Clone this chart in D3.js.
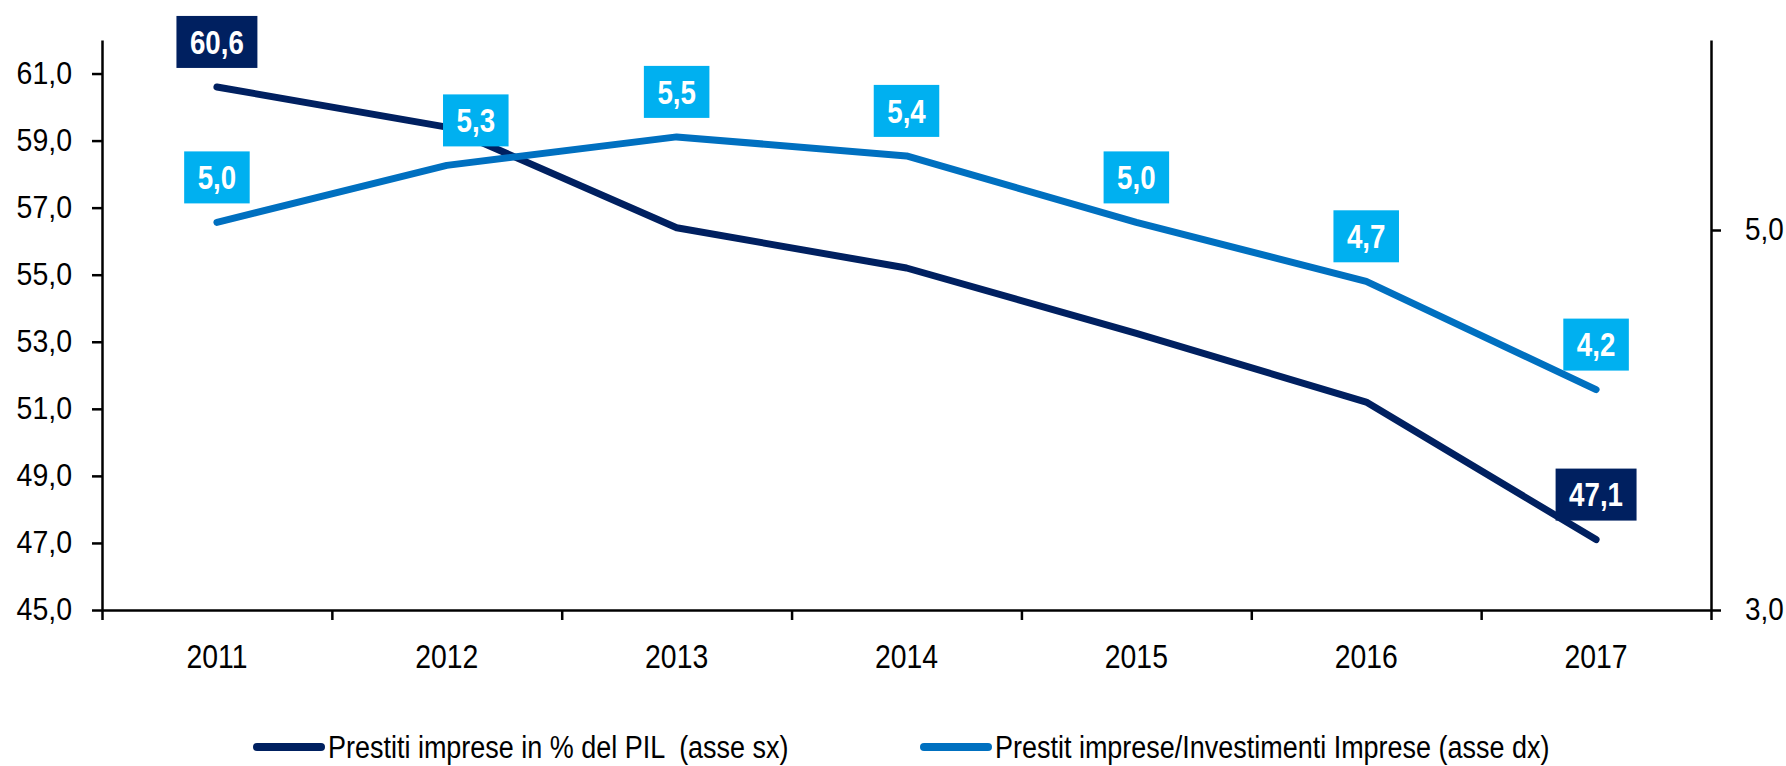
<!DOCTYPE html>
<html>
<head>
<meta charset="utf-8">
<script src="https://cdn.jsdelivr.net/npm/d3@7"></script>
<style>
  body { margin: 0; background: #fff; }
  svg text { font-family: 'Liberation Sans Narrow', 'Arial Narrow', 'Liberation Sans', Arial, sans-serif; }
</style>
</head>
<body>
<div id="chart"></div>
<script>
// dati
var years = ["2011", "2012", "2013", "2014", "2015", "2016", "2017"];
var prestitiPil = [60.6, 59.4, 56.4, 55.2, 53.25, 51.2, 47.1];      // asse sx
var prestitiInv = [5.04, 5.34, 5.49, 5.39, 5.04, 4.73, 4.16];       // asse dx
var pilLabelYears = ["2011", "2017"];
var leftTicks = [45, 47, 49, 51, 53, 55, 57, 59, 61];
var rightTicks = [3, 5];
var legendLabels = ["Prestiti imprese in % del PIL  (asse sx)", "Prestit imprese/Investimenti Imprese (asse dx)"];

var W = 1786, H = 766;
var margin = {top: 40, right: 75, bottom: 156, left: 102};
var width = W - margin.left - margin.right,
    height = H - margin.top - margin.bottom;

var dark = "#002060", line2 = "#0070C0", boxLight = "#00B0F0";
var fmt = function(d) { return d3.format(".1f")(d).replace(".", ","); };

// niente Arial Narrow: stringo il testo in orizzontale
function condense(sel, s) {
  sel.each(function() {
    var t = d3.select(this);
    var ax = +t.attr("x") || 0;
    t.attr("transform", "translate(" + ax + ",0) scale(" + s + ",1) translate(" + (-ax) + ",0)");
  });
}

var svg = d3.select("#chart").append("svg")
    .attr("width", W)
    .attr("height", H)
  .append("g")
    .attr("transform", "translate(" + margin.left + "," + margin.top + ")");

var x = d3.scaleBand().domain(years).range([0, width]);
var xEdge = d3.scaleLinear().domain([0, years.length]).range([0, width]);
var yL = d3.scaleLinear().domain([45, 62]).range([height, 0]);
var yR = d3.scaleLinear().domain([3, 6]).range([height, 0]);
var cx = function(d, i) { return x(years[i]) + x.bandwidth() / 2; };

// assi
var gL = svg.append("g").attr("class", "axis")
    .call(d3.axisLeft(yL).tickValues(leftTicks).tickSize(10).tickSizeOuter(0).tickPadding(20).tickFormat(fmt));
var gR = svg.append("g").attr("class", "axis")
    .attr("transform", "translate(" + width + ",0)")
    .call(d3.axisRight(yR).tickValues(rightTicks).tickSize(10).tickSizeOuter(0).tickPadding(24).tickFormat(fmt));
var gX = svg.append("g").attr("class", "axis")
    .attr("transform", "translate(0," + height + ")")
    .call(d3.axisBottom(xEdge).tickValues(d3.range(years.length + 1)).tickSize(10).tickSizeOuter(0).tickFormat(""));
var gXl = svg.append("g")
    .attr("transform", "translate(0," + height + ")")
    .call(d3.axisBottom(x).tickSize(0).tickPadding(35));
gXl.select(".domain").remove();

svg.selectAll(".axis path, .axis line").attr("stroke", "#000").attr("stroke-width", 2.5);
gL.selectAll("text").attr("font-size", 31).attr("fill", "#000").call(condense, 0.92);
gR.selectAll("text").attr("font-size", 31).attr("fill", "#000").call(condense, 0.9);
gXl.selectAll("text").attr("font-size", 33).attr("fill", "#000").call(condense, 0.86);

// linee
var lineL = d3.line().x(cx).y(function(d) { return yL(d); });
var lineR = d3.line().x(cx).y(function(d) { return yR(d); });

svg.append("path").datum(prestitiPil)
    .attr("d", lineL).attr("fill", "none").attr("stroke", dark)
    .attr("stroke-width", 7).attr("stroke-linecap", "round").attr("stroke-linejoin", "round");
svg.append("path").datum(prestitiInv)
    .attr("d", lineR).attr("fill", "none").attr("stroke", line2)
    .attr("stroke-width", 7).attr("stroke-linecap", "round").attr("stroke-linejoin", "round");

// etichette dati
function addLabel(px, py, txt, fill, dx) {
  var g = svg.append("g");
  var t = g.append("text")
      .attr("x", px + dx).attr("y", py - 19 - 26)
      .attr("text-anchor", "middle").attr("dy", "0.36em")
      .attr("font-size", 33).attr("font-weight", "bold").attr("fill", "#fff")
      .text(txt);
  var w = t.node().getComputedTextLength() * 0.84 + 27;
  t.call(condense, 0.84);
  g.insert("rect", "text")
      .attr("x", px + dx - w / 2).attr("y", py - 19 - 52)
      .attr("width", w).attr("height", 52).attr("fill", fill);
}

prestitiInv.forEach(function(v, i) {
  addLabel(cx(v, i), yR(v), fmt(v), boxLight, years[i] === "2012" ? 29 : 0);
});
prestitiPil.forEach(function(v, i) {
  if (pilLabelYears.indexOf(years[i]) >= 0) addLabel(cx(v, i), yL(v), fmt(v), dark, 0);
});

// legenda
var legX = [253 - margin.left, 920 - margin.left];
var legend = svg.append("g").attr("transform", "translate(0," + (747 - margin.top) + ")");
legendLabels.forEach(function(lab, i) {
  legend.append("line")
      .attr("x1", legX[i] + 4).attr("x2", legX[i] + 68).attr("y1", 0).attr("y2", 0)
      .attr("stroke", i === 0 ? dark : line2).attr("stroke-width", 8).attr("stroke-linecap", "round");
  legend.append("text")
      .attr("x", legX[i] + 75).attr("y", 11)
      .attr("font-size", 31).attr("fill", "#000")
      .style("white-space", "pre")
      .text(lab)
      .call(condense, 0.87);
});
</script>
</body>
</html>
